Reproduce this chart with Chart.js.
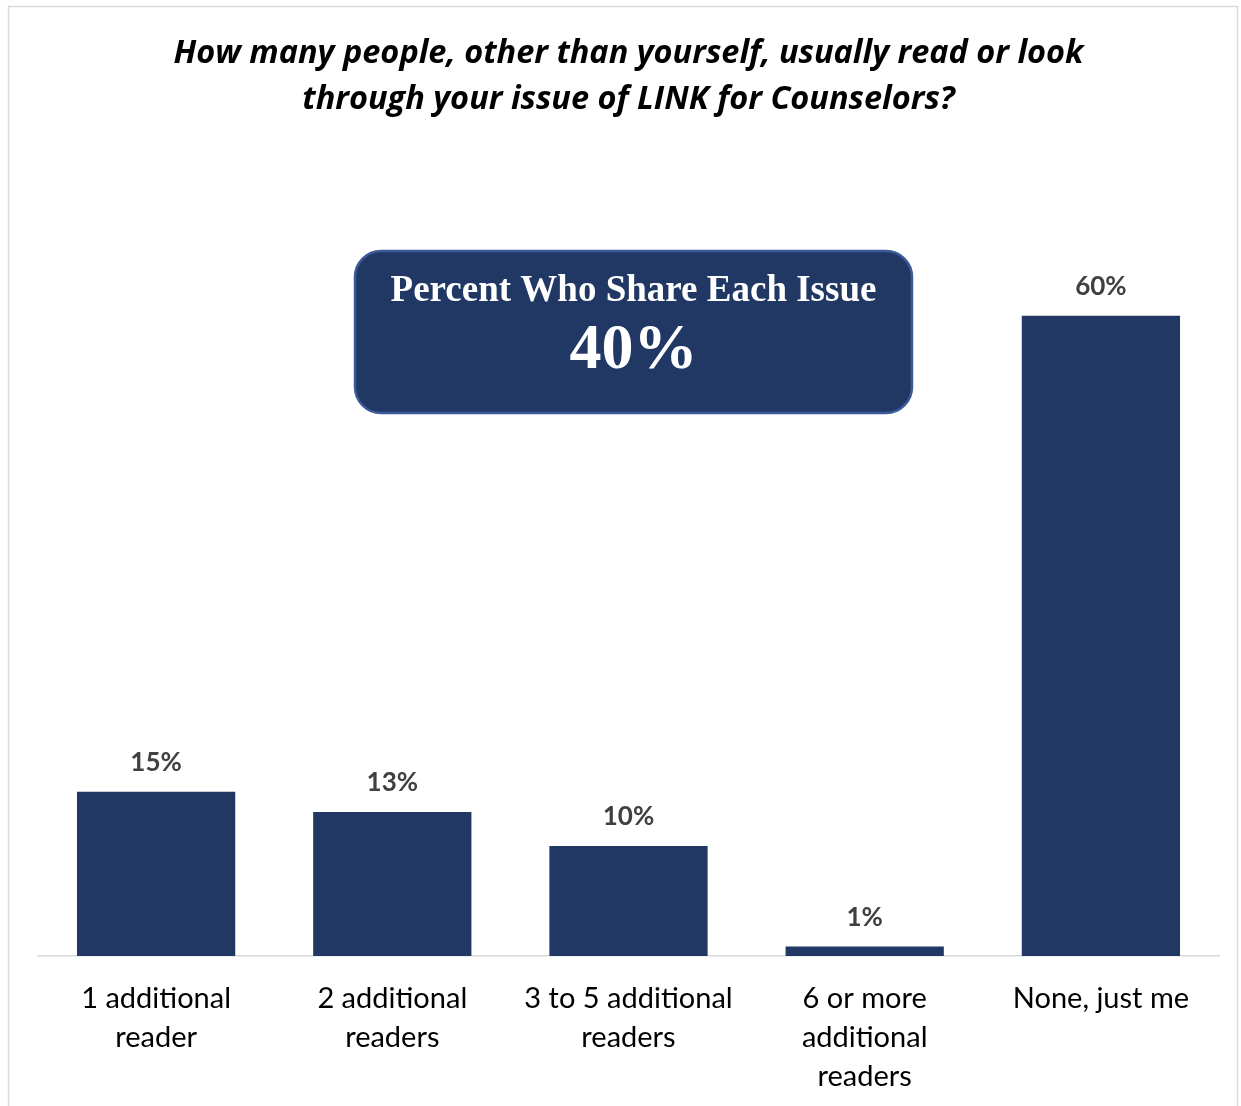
<!DOCTYPE html>
<html>
<head>
<meta charset="utf-8">
<script src="https://cdn.jsdelivr.net/npm/chart.js@4"></script>
<style>
  html, body { margin: 0; padding: 0; background: #fff; }
  #wrap { width: 1241px; height: 1106px; position: relative; }
</style>
</head>
<body>
<div id="wrap"><canvas id="leitoresChart"></canvas></div>
<script>
// quantas pessoas leem a mesma edição
const categorias = [
    ['1 additional', 'reader'],
    ['2 additional', 'readers'],
    ['3 to 5 additional', 'readers'],
    ['6 or more', 'additional', 'readers'],
    ['None, just me']
];
const percentuais = [15.4, 13.5, 10.3, 0.9, 60];
const rotulos = ['15%', '13%', '10%', '1%', '60%'];
const tituloLinhas = ['How many people, other than yourself, usually read or look', 'through your issue of LINK for Counselors?'];
const caixaTitulo = 'Percent Who Share Each Issue';
const caixaValor = '40%';

const azul = '#213864';

// moldura, rótulos das barras e a caixa do meio
const extras = {
    id: 'extras',
    beforeDraw(chart) {
        const ctx = chart.ctx;
        ctx.save();
        ctx.fillStyle = '#fff';
        ctx.fillRect(0, 0, chart.width, chart.height);
        ctx.strokeStyle = '#d9d9d9';
        ctx.lineWidth = 1.5;
        ctx.strokeRect(8.5, 6.5, 1229, 1120);
        ctx.restore();
    },
    afterDatasetsDraw(chart) {
        const ctx = chart.ctx;
        const meta = chart.getDatasetMeta(0);
        ctx.save();
        ctx.font = "bold 26px Lato, 'Open Sans', sans-serif";
        ctx.fillStyle = '#404040';
        ctx.textAlign = 'center';
        ctx.textBaseline = 'middle';
        meta.data.forEach((bar, i) => {
            ctx.fillText(rotulos[i], bar.x, bar.y - 29);
        });

        // caixa "Percent Who Share Each Issue"
        const x = 355, y = 251, w = 557, h = 162, r = 26;
        ctx.beginPath();
        ctx.roundRect(x, y, w, h, r);
        ctx.fillStyle = azul;
        ctx.fill();
        ctx.lineWidth = 2.5;
        ctx.strokeStyle = '#3a5a9a';
        ctx.stroke();
        ctx.fillStyle = '#fff';
        ctx.font = "bold 37px 'Liberation Serif', serif";
        ctx.fillText(caixaTitulo, x + w / 2, 291);
        ctx.font = "bold 64px 'Liberation Serif', serif";
        ctx.fillText(caixaValor, x + w / 2, 351);
        ctx.restore();
    }
};

new Chart(document.getElementById('leitoresChart'), {
    type: 'bar',
    data: {
        labels: categorias,
        datasets: [{
            data: percentuais,
            backgroundColor: azul,
            barPercentage: 0.67,
            categoryPercentage: 1
        }]
    },
    options: {
        responsive: true,
        maintainAspectRatio: false,
        animation: false,
        layout: {
            padding: { left: 38, right: 22, top: 0, bottom: 0 }
        },
        plugins: {
            legend: { display: false },
            tooltip: { enabled: false },
            title: {
                display: true,
                text: tituloLinhas,
                color: '#000',
                font: {
                    family: "'Open Sans', Lato, sans-serif",
                    size: 32.5,
                    weight: 'bold',
                    style: 'italic',
                    lineHeight: 1.43
                },
                padding: { top: 30, bottom: 86 }
            }
        },
        scales: {
            y: {
                display: false,
                min: 0,
                max: 70
            },
            x: {
                grid: { display: false, drawTicks: false },
                border: { display: true, color: '#d9d9d9', width: 1.5 },
                ticks: {
                    color: '#000',
                    padding: 23,
                    maxRotation: 0,
                    autoSkip: false,
                    font: {
                        family: "Lato, 'Open Sans', sans-serif",
                        size: 29,
                        lineHeight: 1.35
                    }
                },
                afterFit(scale) {
                    scale.height = 150;
                }
            }
        }
    },
    plugins: [extras]
});
</script>
</body>
</html>
